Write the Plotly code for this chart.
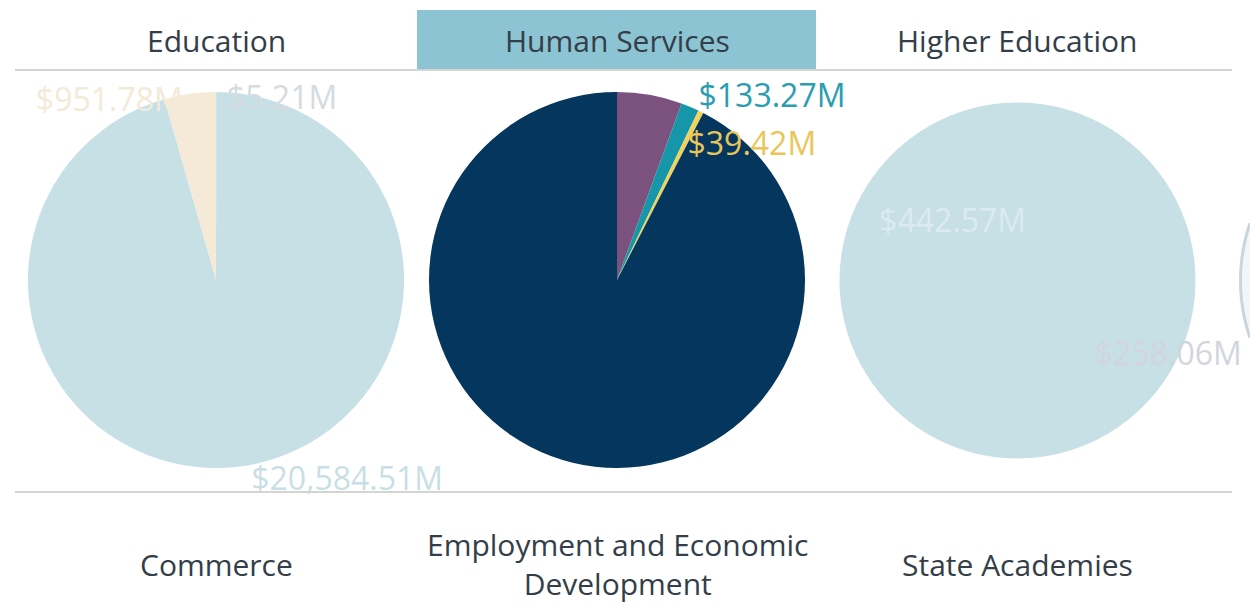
import math
import plotly.graph_objects as go

W, H = 1250, 609

# ---- data ----
tabs_top = ["Education", "Human Services", "Higher Education"]
tabs_bottom = ["Commerce", "Employment and Economic<br>Development", "State Academies"]
selected_tab = "Human Services"

edu_labels = ["Other", "K-12 Aid", "Special Programs"]
edu_values = [5.21, 20584.51, 951.78]
edu_colors = ["#D3DCE3", "#C6E0E6", "#F4EAD7"]
edu_text_colors = ["#D6DBE0", "#C9DFE5", "#F3EAD8"]

hs_labels = ["Program A", "Program B", "Program C", "Program D"]
hs_values = [480.0, 133.27, 39.42, 7950.0]
hs_colors = ["#7B527E", "#1596A9", "#F0D25E", "#05375E"]
hs_text_colors = ["#7B527E", "#2A9DB1", "#E9C659", "#05375E"]
hs_show = [False, True, True, False]

he_labels = ["Universities", "Colleges"]
he_values = [258.06, 442.57]
he_colors = ["#C6E0E6", "#C6E0E6"]
he_text_colors = ["#D2D6DC", "#DCEBEF"]

FONT = "Open Sans"
LABEL_SIZE = 32
TAB_SIZE = 30
CLEAR = "rgba(0,0,0,0)"
FMT = "$%{value:,.2f}M"


def px_dom(cx, cy, r):
    return dict(x=[(cx - r) / W, (cx + r) / W], y=[(H - cy - r) / H, (H - cy + r) / H])


def pie(labels, values, colors, cx, cy, r, rotation=0, text=None, textpos="outside",
        text_colors=None, line_colors=None):
    n = len(values)
    return go.Pie(
        labels=labels, values=values, sort=False, direction="clockwise", rotation=rotation,
        marker=dict(colors=colors,
                    line=dict(width=1 if line_colors else 0, color=line_colors or CLEAR)),
        texttemplate=text if text is not None else [""] * n,
        textposition=textpos, insidetextorientation="horizontal",
        textfont=dict(family=FONT, size=LABEL_SIZE, color=text_colors or colors),
        domain=px_dom(cx, cy, r), showlegend=False,
        hoverinfo="label+value" if colors[0] != CLEAR else "skip",
    )


def label_layer(labels, values, cx, cy, r, keep, text_colors, rotation=0):
    """Transparent copy of a pie that only carries the value labels."""
    text = [FMT if k else "" for k in keep]
    return pie(labels, values, [CLEAR] * len(values), cx, cy, r, rotation=rotation,
               text=text, text_colors=text_colors)


fig = go.Figure()

# Education (faded)
EDU = (216, 280, 188)
fig.add_trace(pie(edu_labels, edu_values, edu_colors, *EDU))
fig.add_trace(label_layer(edu_labels, edu_values, EDU[0], EDU[1], 162, [True, False, True], edu_text_colors))
fig.add_trace(label_layer(edu_labels, edu_values, EDU[0], EDU[1], 178, [False, True, False], edu_text_colors))

# Human Services (selected)
HS = (617, 280, 188)
fig.add_trace(pie(hs_labels, hs_values, hs_colors, *HS))
fig.add_trace(label_layer(hs_labels, hs_values, HS[0], HS[1], 182,
                          [i == 1 and s for i, s in enumerate(hs_show)], hs_text_colors))
fig.add_trace(label_layer(hs_labels, hs_values, HS[0], HS[1], 134,
                          [i == 2 and s for i, s in enumerate(hs_show)], hs_text_colors))

# Higher Education (faded)
HE = (1017.5, 280.5, 177.5)
HE_ROT = 66.7
fig.add_trace(pie(he_labels, he_values, he_colors, *HE, rotation=HE_ROT,
                  text=["", FMT], textpos="inside", text_colors=he_text_colors,
                  line_colors=he_colors))
fig.add_trace(label_layer(he_labels, he_values, HE[0], HE[1], 91, [True, False],
                          he_text_colors, rotation=HE_ROT))

shapes = []
idx = tabs_top.index(selected_tab)
centers = [216, 617, 1017]
shapes.append(dict(type="rect", xref="paper", yref="paper",
                   x0=(centers[idx] - 200) / W, x1=(centers[idx] + 199) / W,
                   y0=(H - 69) / H, y1=(H - 10) / H,
                   fillcolor="#8CC4D3", line=dict(width=0), layer="below"))
for yy in (70, 492):
    shapes.append(dict(type="line", xref="paper", yref="paper",
                       x0=15 / W, x1=1232 / W, y0=(H - yy) / H, y1=(H - yy) / H,
                       line=dict(color="#D4D4D4", width=2)))

# edge of the next (off-screen) pie, clipped to the page
cx, cy, r = 1418.0, 280.5, 177.5
dy_max = math.sqrt(r * r - (cx - W) ** 2)
pts = []
n = 24
for i in range(n + 1):
    dy = -dy_max + 2 * dy_max * i / n
    x = cx - math.sqrt(max(r * r - dy * dy, 0))
    pts.append((x / W, (H - (cy + dy)) / H))
path = "M " + " L ".join(f"{x:.5f},{y:.5f}" for x, y in pts)
shapes.append(dict(type="path", xref="paper", yref="paper", path=path + " Z",
                   fillcolor="#F2F6F8", line=dict(width=0), layer="below"))
shapes.append(dict(type="path", xref="paper", yref="paper", path=path,
                   line=dict(color="#C9D6DE", width=3), layer="below"))

annotations = []
for i, t in enumerate(tabs_top):
    annotations.append(dict(text=t, x=centers[i] / W, y=(H - 40) / H, xref="paper", yref="paper",
                            showarrow=False, xanchor="center", yanchor="middle",
                            font=dict(family=FONT, size=TAB_SIZE, color="#333E48")))
for i, t in enumerate(tabs_bottom):
    annotations.append(dict(text=t, x=centers[i] / W, y=(H - 564) / H, xref="paper", yref="paper",
                            showarrow=False, xanchor="center", yanchor="middle",
                            font=dict(family=FONT, size=TAB_SIZE, color="#333E48")))

fig.update_layout(
    width=W, height=H, margin=dict(l=0, r=0, t=0, b=0, autoexpand=False),
    showlegend=False,
    paper_bgcolor="white", plot_bgcolor="white",
    shapes=shapes, annotations=annotations,
)

fig.write_html("out.html", config={"displayModeBar": False},
               post_script="document.body.style.margin='0';document.body.style.overflow='hidden';")
